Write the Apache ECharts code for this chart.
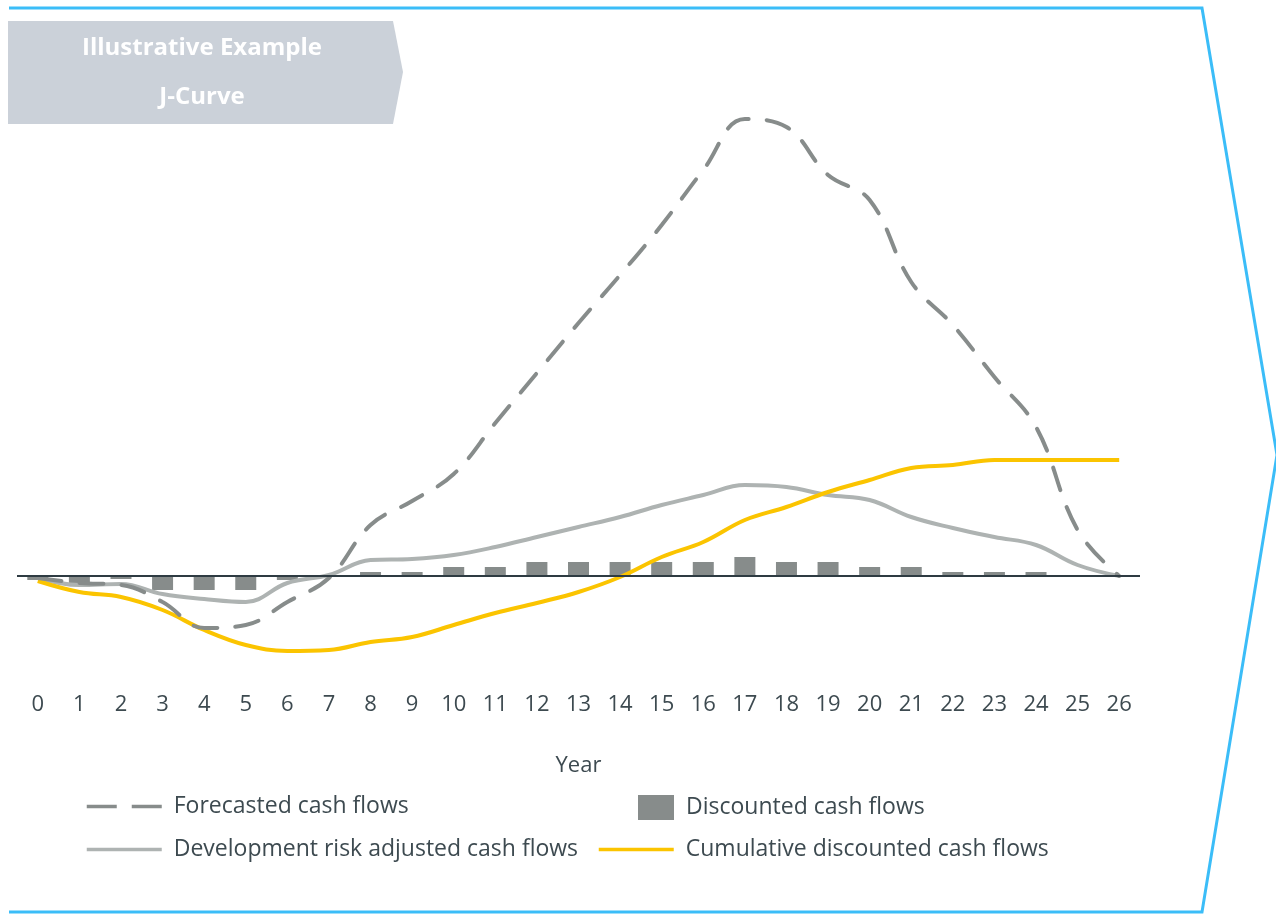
<!DOCTYPE html>
<html>
<head>
<meta charset="utf-8">
<title>J-Curve</title>
<script src="https://cdn.jsdelivr.net/npm/echarts@6/dist/echarts.min.js"></script>
<style>
  html, body { margin: 0; padding: 0; background: #ffffff; }
  #chart { width: 1276px; height: 915px; }
</style>
</head>
<body>
<div id="chart"></div>
<script>
// Years on the horizontal axis
const years = ['0','1','2','3','4','5','6','7','8','9','10','11','12','13','14','15','16','17','18','19','20','21','22','23','24','25','26'];

// Cash flow profiles (illustrative units)
const forecasted   = [-2, -7, -9, -26, -52, -49, -26, -2, 51, 75, 102, 153, 203, 253, 301, 351, 406, 457, 449, 401, 376, 294, 251, 199, 149, 46, 0];
const riskAdjusted = [-2, -9, -8, -18, -23, -26, -7, 1, 16, 17, 21, 29, 39, 49, 59, 71, 81, 91, 89, 81, 76, 59, 48, 39, 31, 11, 0];
const discounted   = [-4, -7, -3, -14, -14, -14, -4, 0, 4, 4, 9, 9, 14, 14, 14, 14, 14, 19, 14, 14, 9, 9, 4, 4, 4, 0, 0];
const cumulative   = [-5, -16, -21, -34, -54, -69, -75, -74, -66, -61, -49, -37, -27, -16, -1, 19, 34, 56, 69, 84, 96, 108, 111, 116, 116, 116, 116];

const TEXT = '#3d4a50';
const FONT = '"Open Sans", "Noto Sans", sans-serif';
const DARK_GREY = '#878c8b';
const LIGHT_GREY = '#aeb3b2';
const YELLOW = '#fbc400';
const BLUE = '#3bbdf8';

const chart = echarts.init(document.getElementById('chart'), null, { renderer: 'canvas' });

const legendText = { color: TEXT, fontSize: 23, fontFamily: FONT, padding: [0, 0, 0, 7] };
// line legends show only the stroke, no marker in the middle
const hiddenMarker = { opacity: 0 };

chart.setOption({
  animation: false,
  backgroundColor: '#ffffff',
  grid: { left: 17, right: 136, top: 76, bottom: 239 },
  xAxis: {
    type: 'category',
    data: years,
    boundaryGap: true,
    axisLine: { show: false, onZero: false },
    axisTick: { show: false },
    axisLabel: { color: TEXT, fontSize: 22, fontFamily: FONT, margin: 18 },
    name: 'Year',
    nameLocation: 'middle',
    nameGap: 79,
    nameTextStyle: { color: TEXT, fontSize: 22, fontFamily: FONT }
  },
  yAxis: {
    type: 'value',
    min: -100,
    max: 500,
    show: false,
    splitLine: { show: false }
  },
  legend: [
    {
      data: ['Forecasted cash flows'], left: 85, top: 795, padding: 0,
      itemWidth: 75, itemHeight: 25, itemStyle: hiddenMarker,
      textStyle: legendText, lineStyle: { width: 3.5, type: [30, 15], cap: 'butt' }
    },
    {
      data: ['Development risk adjusted cash flows'], left: 85, top: 838, padding: 0,
      itemWidth: 75, itemHeight: 25, itemStyle: hiddenMarker,
      textStyle: legendText, lineStyle: { width: 3.5 }
    },
    {
      data: ['Discounted cash flows'], left: 638, top: 795, padding: 0,
      itemWidth: 36, itemHeight: 25,
      textStyle: legendText, icon: 'rect'
    },
    {
      data: ['Cumulative discounted cash flows'], left: 597, top: 838, padding: 0,
      itemWidth: 75, itemHeight: 25, itemStyle: hiddenMarker,
      textStyle: legendText, lineStyle: { width: 3.5 }
    }
  ],
  series: [
    {
      name: 'Discounted cash flows',
      type: 'bar',
      data: discounted,
      barWidth: 21,
      itemStyle: { color: DARK_GREY },
      markLine: {
        silent: true,
        symbol: 'none',
        label: { show: false },
        lineStyle: { color: '#2e3b42', width: 2, type: 'solid' },
        data: [{ yAxis: 0 }]
      }
    },
    {
      name: 'Development risk adjusted cash flows',
      type: 'line',
      data: riskAdjusted,
      smooth: 0.4,
      symbol: 'none',
      lineStyle: { color: LIGHT_GREY, width: 4 },
      itemStyle: { color: LIGHT_GREY }
    },
    {
      name: 'Cumulative discounted cash flows',
      type: 'line',
      data: cumulative,
      smooth: 0.4,
      symbol: 'none',
      lineStyle: { color: YELLOW, width: 4 },
      itemStyle: { color: YELLOW }
    },
    {
      name: 'Forecasted cash flows',
      type: 'line',
      data: forecasted,
      smooth: 0.4,
      symbol: 'none',
      lineStyle: { color: DARK_GREY, width: 4, type: [24, 18], cap: 'round' },
      itemStyle: { color: DARK_GREY }
    }
  ],
  graphic: [
    // chevron-shaped frame around the chart
    {
      type: 'polyline',
      silent: true,
      z: 0,
      shape: { points: [[9, 8], [1202, 8], [1277, 455], [1202, 912], [9, 912]] },
      style: { stroke: BLUE, lineWidth: 3, fill: null }
    },
    // header tag
    {
      type: 'polygon',
      silent: true,
      z: 1,
      shape: { points: [[8, 21], [393, 21], [403, 72], [393, 124], [8, 124]] },
      style: { fill: '#cbd1d9' }
    },
    {
      type: 'text',
      silent: true,
      z: 2,
      x: 202, y: 48,
      style: {
        text: 'Illustrative Example', fill: '#ffffff', font: 'bold 24px ' + FONT,
        textAlign: 'center', textVerticalAlign: 'middle'
      }
    },
    {
      type: 'text',
      silent: true,
      z: 2,
      x: 202, y: 97,
      style: {
        text: 'J-Curve', fill: '#ffffff', font: 'bold 24px ' + FONT,
        textAlign: 'center', textVerticalAlign: 'middle'
      }
    }
  ]
});
</script>
</body>
</html>
